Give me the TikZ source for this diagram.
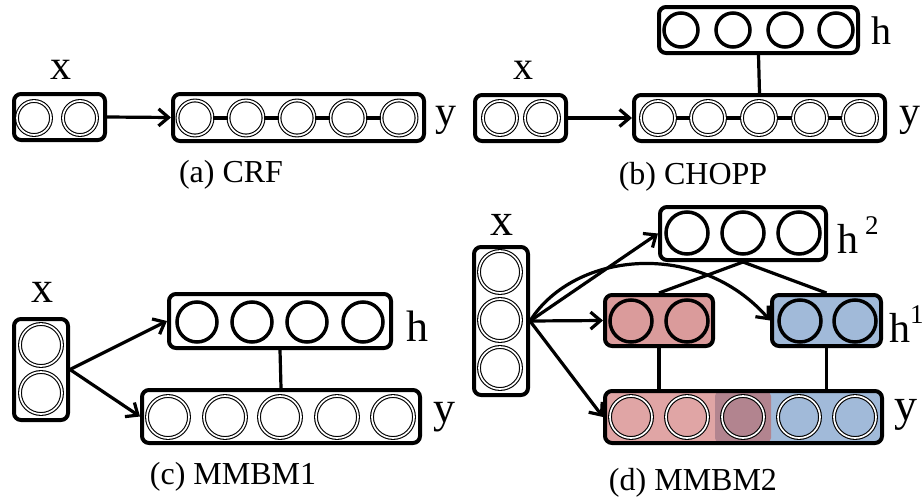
\documentclass[tikz,border=0pt]{standalone}
\usepackage{fontspec}
\setmainfont{Liberation Serif}
\usetikzlibrary{arrows.meta}
\definecolor{hred}{HTML}{DA9B9B}
\definecolor{yred}{HTML}{E0A5A5}
\definecolor{ymid}{HTML}{B2848F}
\definecolor{hblue}{HTML}{A1BAD9}
\newcommand{\supx}[1]{\raisebox{19pt}{\fontsize{27}{27}\selectfont #1}}
\tikzset{
  box/.style={draw, line width=4pt, rounded corners=7pt, rectangle, inner sep=0pt},
  hc/.style={circle, draw, line width=3.5pt, inner sep=0pt, minimum size=#1},
  hc/.default=34pt,
  oc/.style={circle, draw, double, line width=1.1pt, double distance=1.7pt, inner sep=0pt, minimum size=#1},
  oc/.default=34pt,
  arr/.style={line width=3.2pt, -{Straight Barb[length=10pt,width=17pt]}},
  conn/.style={line width=3.2pt},
  lab/.style={inner sep=0pt, font=\fontsize{#1}{#1}\selectfont},
  captext/.style={inner sep=0pt, font=\fontsize{32}{35}\selectfont},
}
\begin{document}
\begin{tikzpicture}[x=1pt,y=-1pt]
\useasboundingbox (0,0) rectangle (924,501);
% ---------------- (a) CRF
\node[box, minimum width=91pt, minimum height=46pt] (ax) at (59.5,117) {};
\node[oc] (ax1) at (34,118) {};
\node[oc] (ax2) at (80,118) {};
\node[box, minimum width=251pt, minimum height=47pt] (ay) at (298.5,117.5) {};
\foreach \i/\xx in {1/195,2/246,3/297,4/348,5/399}
  \node[oc=35pt] (ay\i) at (\xx,118) {};
\foreach \i/\j in {1/2,2/3,3/4,4/5}
  \draw[conn] (ay\i) -- (ay\j);
\draw[arr] (ax.east) -- (ay.west);
\node[lab=42] (alx) at (61,70) {x};
\node[lab=42] (aly) at (446,120) {y};
\node[captext] (acap) at (231,175) {(a) CRF};
% ---------------- (b) CHOPP
\node[box, minimum width=199pt, minimum height=46pt] (bh) at (758.5,30) {};
\foreach \i/\xx in {1/681,2/733,3/785,4/836}
  \node[hc] (bh\i) at (\xx,30) {};
\node[box, minimum width=251pt, minimum height=46pt] (by) at (759.5,118) {};
\foreach \i/\xx in {1/658,2/708,3/759,4/810,5/860}
  \node[oc] (by\i) at (\xx,118) {};
\foreach \i/\j in {1/2,2/3,3/4,4/5}
  \draw[conn] (by\i) -- (by\j);
\node[box, minimum width=91pt, minimum height=46pt] (bx) at (520.5,118) {};
\node[oc] (bx1) at (500,118) {};
\node[oc] (bx2) at (542,118) {};
\draw[conn] (bh.south) -- (by.north);
\draw[arr] (bx.east) -- (by.west);
\node[lab=40] (blx) at (523.5,70) {x};
\node[lab=40] (blh) at (881.5,31) {h};
\node[lab=42] (bly) at (910,120) {y};
\node[captext] (bcap) at (693,177) {(b) CHOPP};
% ---------------- (c) MMBM1
\node[box, minimum width=54pt, minimum height=101pt] (cx) at (41,369.5) {};
\node[oc=42pt] (cx1) at (41,345) {};
\node[oc=42pt] (cx2) at (41,393) {};
\node[box, minimum width=222pt, minimum height=54pt] (ch) at (280,321) {};
\foreach \i/\xx in {1/197,2/252,3/307,4/363}
  \node[hc=40pt] (ch\i) at (\xx,322) {};
\node[box, minimum width=278pt, minimum height=53pt] (cy) at (281,416.5) {};
\foreach \i/\xx in {1/168,2/225,3/280,4/337,5/393}
  \node[oc=42pt] (cy\i) at (\xx,417) {};
\draw[conn] (ch.south) -- (cy.north);
\draw[arr] (cx.east) -- (ch.west);
\draw[arr] (cx.east) -- (cy.west);
\node[lab=44] (clx) at (42,292) {x};
\node[lab=44] (clh) at (417.5,326) {h};
\node[lab=44] (cly) at (444,417) {y};
\node[captext] (ccap) at (233,477) {(c) MMBM1};
% ---------------- (d) MMBM2
\node[box, minimum width=54pt, minimum height=148pt] (dx) at (501,321) {};
\foreach \i/\yy in {1/272,2/320,3/368}
  \node[oc=42pt] (dx\i) at (500,\yy) {};
\node[box, minimum width=166pt, minimum height=53pt] (dh) at (743,233.5) {};
\foreach \i/\xx in {1/687,2/743,3/799}
  \node[hc=42pt] (dh\i) at (\xx,233) {};
\node[box, fill=hred, minimum width=108pt, minimum height=51pt] (dr) at (659,320.5) {};
\node[hc=42pt] (dr1) at (631,321) {};
\node[hc=42pt] (dr2) at (687,321) {};
\node[box, fill=hblue, minimum width=109pt, minimum height=51pt] (db) at (826.5,320.5) {};
\node[hc=42pt] (db1) at (800,321) {};
\node[hc=42pt] (db2) at (855,321) {};
\begin{scope}
  \clip[rounded corners=7pt] (604.5,390.5) rectangle (882.5,443.5);
  \fill[yred] (604,390) rectangle (716,444);
  \fill[hblue] (770,390) rectangle (883,444);
  \fill[ymid, rounded corners=4pt] (715,392) rectangle (771,442);
\end{scope}
\node[box, minimum width=277pt, minimum height=52pt] (dy) at (743.5,417) {};
\foreach \i/\xx in {1/631,2/687,3/743,4/799,5/855}
  \node[oc=42pt] (dy\i) at (\xx,417) {};
\draw[conn] (dh.south) -- (dr.north);
\draw[conn] (dh.south) -- (db.north);
\draw[conn] (dr.south) -- (dr.south |- dy.north);
\draw[conn] (db.south) -- (db.south |- dy.north);
\draw[arr] (dx.east) -- (dh.west);
\draw[arr] (dx.east) -- (dr.west);
\draw[arr] (dx.east) -- (dy.west);
\draw[arr] (dx.east) .. controls (575,250) and (700,240) .. (db.west);
\node[lab=46] (dlx) at (502,225) {x};
\node[lab=42, anchor=base west] (dlh2) at (837,253) {h\,\supx{2}};
\node[lab=42, anchor=base west] (dlh1) at (889,342) {h\supx{1}};
\node[lab=46] (dly) at (906,415) {y};
\node[captext] (dcap) at (693,483) {(d) MMBM2};
\end{tikzpicture}
\end{document}
